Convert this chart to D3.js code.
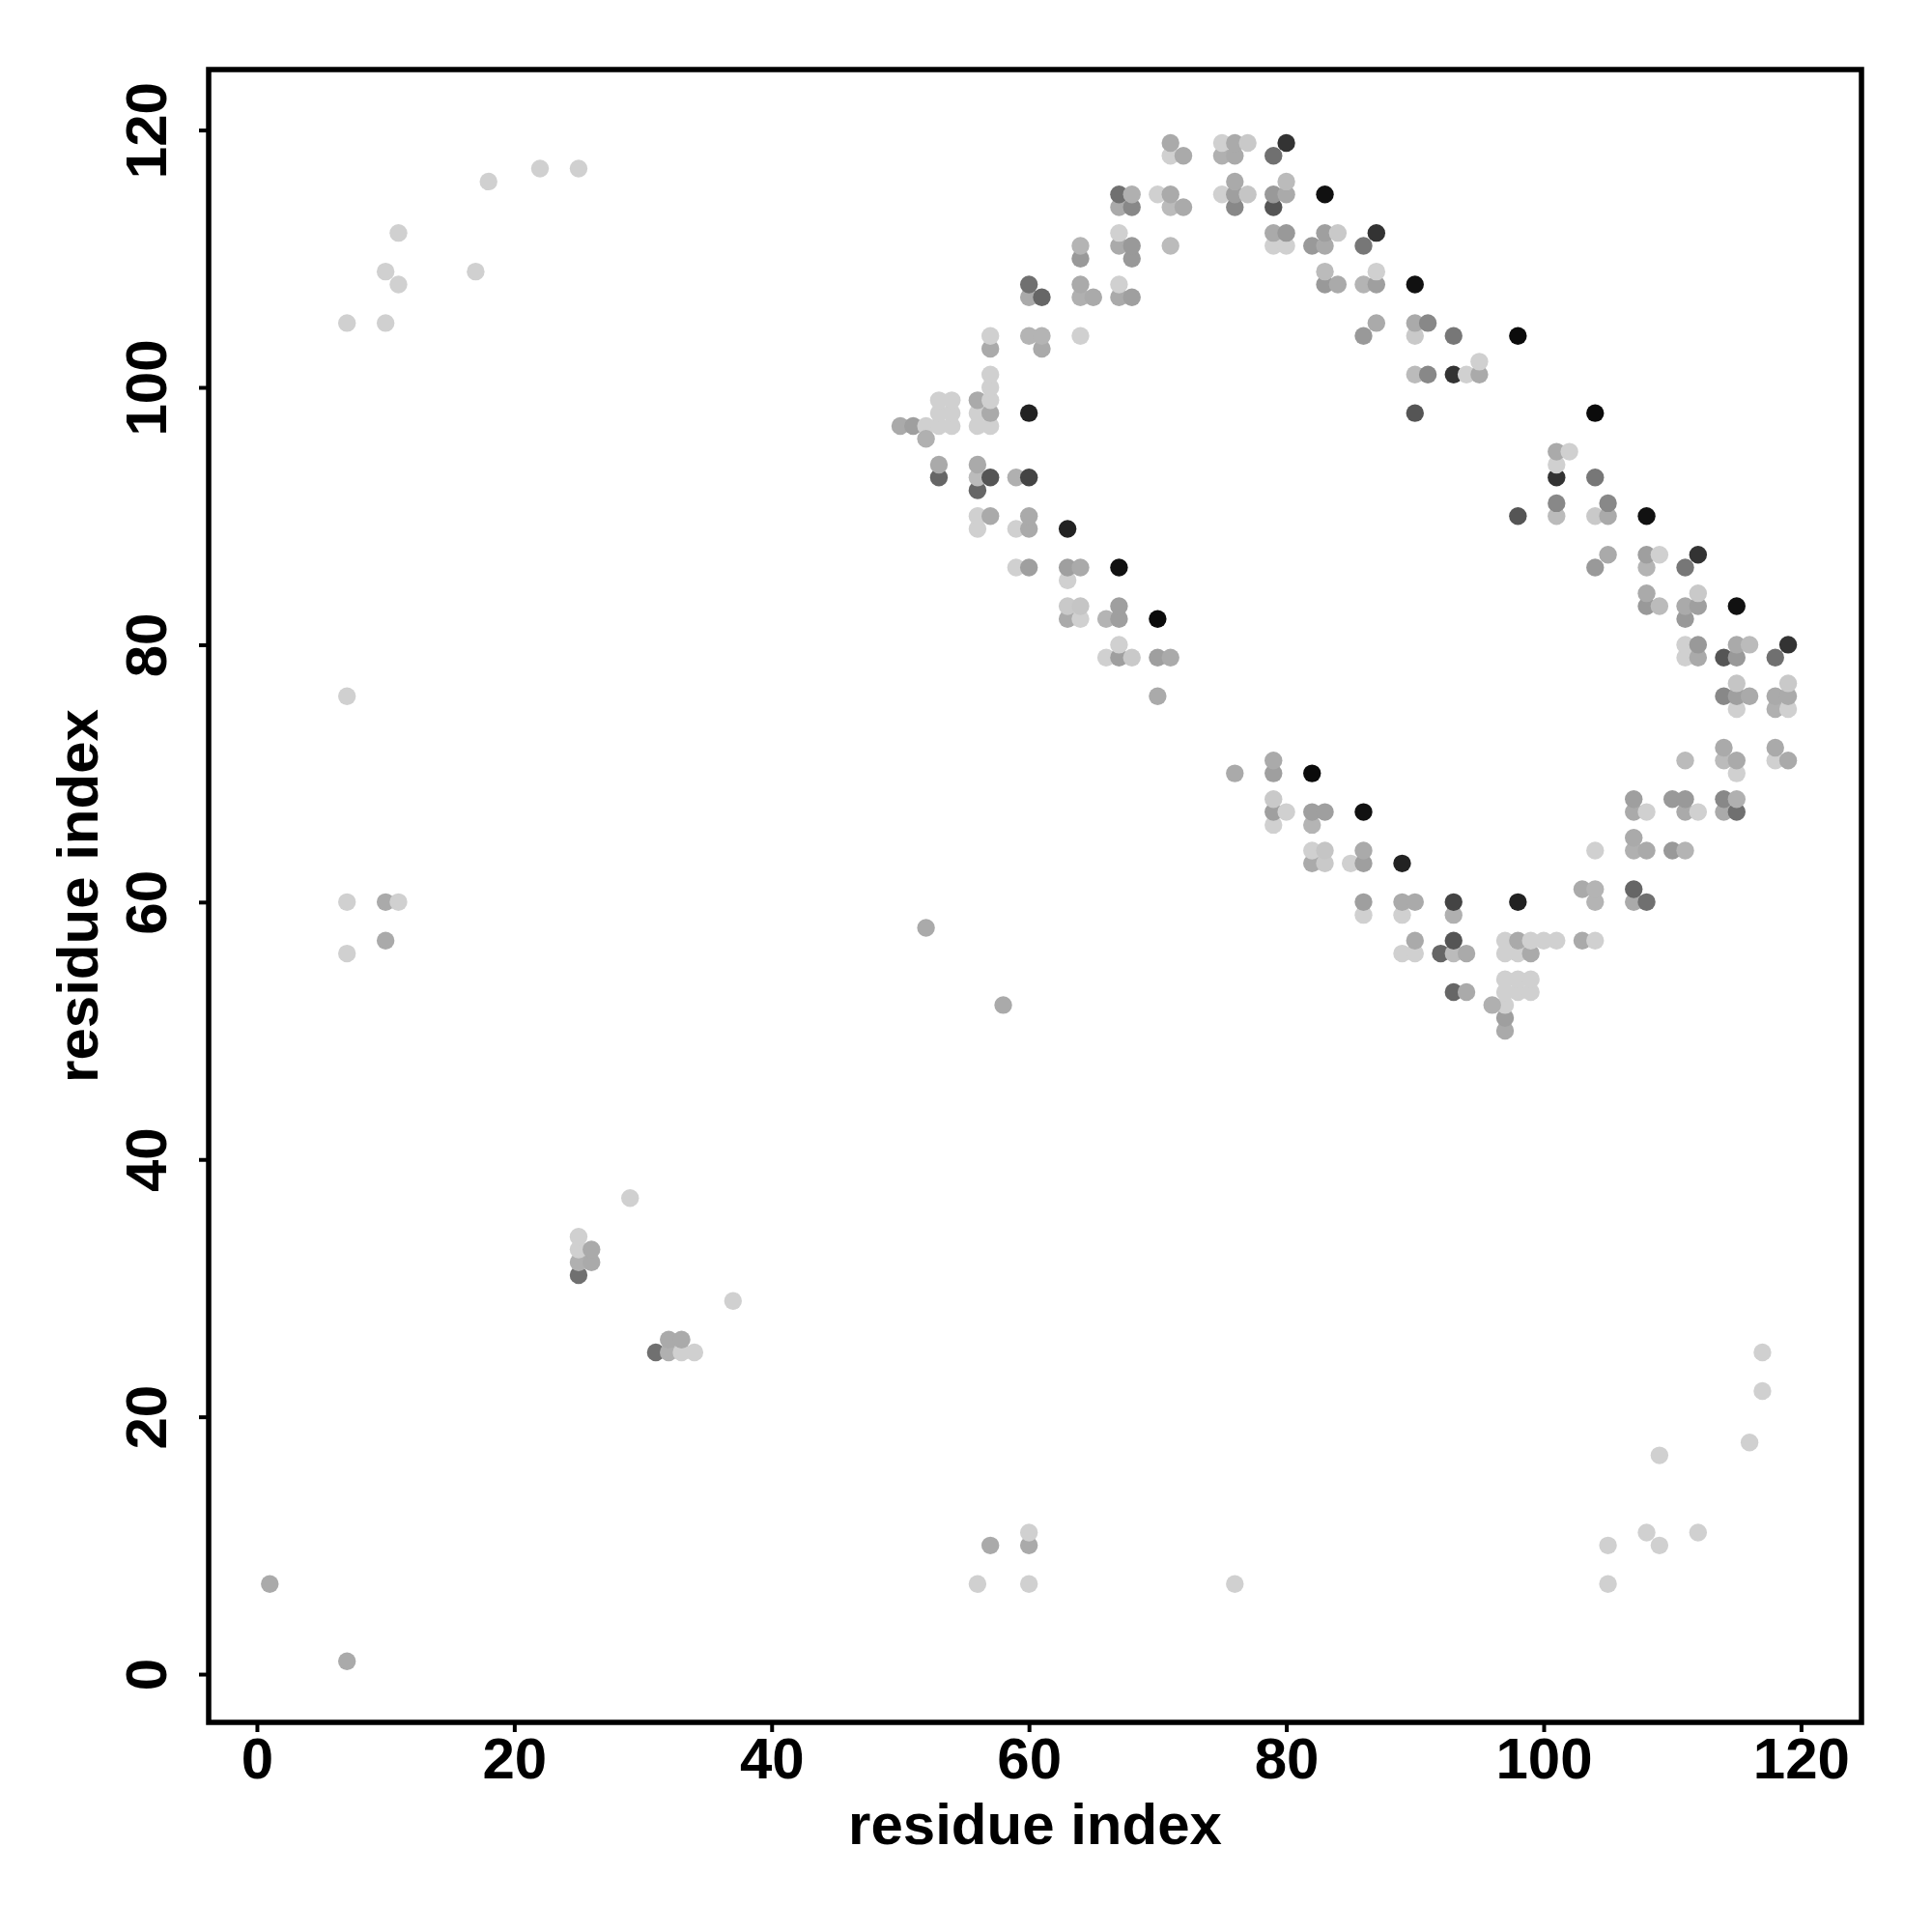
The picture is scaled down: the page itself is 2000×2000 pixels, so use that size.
<!DOCTYPE html>
<html>
<head>
<meta charset="utf-8">
<script src="https://cdn.jsdelivr.net/npm/d3@7"></script>
<style>body{margin:0;background:#fff}</style>
</head>
<body>
<svg id="chart" width="2000" height="2000"></svg>
<script>
// Contact list (upper triangle, i < j); each contact is drawn at (i,j) and (j,i)
const contactI = [
  1,7,10,10,11,11,17,18,22,25,7,7,7,10,10,11,52,29,25,25,25,25,26,26,
  50,51,52,52,53,53,53,54,54,54,56,56,56,57,57,57,57,57,57,57,60,60,61,61,64,
  60,60,61,64,64,65,67,67,68,64,64,67,67,68,68,71,67,67,68,68,70,71,71,72,
  71,71,72,75,75,75,76,76,76,76,76,77,77,79,79,79,80,80,80,
  79,79,80,80,82,83,83,84,83,86,87,83,83,84,86,87,87,90,
  86,87,90,90,91,93,98,90,91,93,94,95,95,90,
  53,53,56,56,56,57,59,60,56,56,57,59,60,60,63,59,60,63,63,64,67,
  63,63,64,64,66,67,67,70,66,67,67,68,70,71,70
];
const contactJ = [
  7,105,105,109,108,112,109,116,117,117,76,56,60,57,60,60,58,37,31,32,33,34,32,33,
  97,97,97,96,97,98,99,97,98,99,97,98,99,97,98,99,100,101,103,104,98,104,103,104,104,
  107,108,107,107,108,107,107,108,107,110,111,111,112,110,111,111,114,115,114,115,115,114,115,114,
  118,119,118,115,118,119,114,115,116,118,119,115,119,114,115,118,115,116,119,
  111,112,111,112,111,111,112,112,115,111,112,108,109,108,108,108,109,108,
  104,105,104,105,105,104,104,101,101,101,101,101,102,98,
  93,94,92,93,94,93,93,93,89,90,90,89,89,90,89,86,86,85,86,86,86,
  82,83,82,83,82,82,83,82,79,79,80,79,79,79,76
];
const contactScore = [
  .20,.02,.02,.02,.02,.02,.02,.02,.02,.02,.02,.02,.02,.20,.20,.02,.20,.02,.47,.17,.02,.02,.20,.20,
  .20,.25,.02,.17,.02,.02,.02,.02,.02,.02,.02,.02,.20,.02,.20,.02,.02,.02,.20,.02,.84,.15,.20,.15,.02,
  .20,.47,.52,.17,.20,.20,.20,.02,.25,.28,.15,.20,.02,.28,.28,.12,.20,.47,.36,.17,.02,.12,.20,.20,
  .02,.20,.20,.02,.17,.02,.36,.25,.20,.20,.20,.07,.05,.60,.28,.47,.20,.12,.76,
  .02,.20,.02,.28,.28,.20,.25,.05,.92,.44,.76,.28,.12,.20,.15,.25,.02,.92,
  .28,.20,.05,.20,.36,.44,.95,.12,.36,.76,.02,.20,.02,.60,
  .52,.20,.52,.12,.20,.60,.17,.68,.02,.02,.20,.02,.20,.20,.84,.02,.25,.02,.25,.20,.92,
  .20,.05,.02,.07,.15,.25,.25,.95,.02,.25,.02,.05,.25,.20,.20
];
const xTicks = [0, 20, 40, 60, 80, 100, 120];
const yTicks = [0, 20, 40, 60, 80, 100, 120];
const xTitle = "residue index";
const yTitle = "residue index";

const FONT = "'Liberation Sans', Arial, Helvetica, sans-serif";
const svg = d3.select("#chart");
const L = 216, R = 1927, T = 72, B = 1783;
const x = d3.scaleLinear().domain([-3.75, 124.7]).range([L, R]);
const y = d3.scaleLinear().domain([-3.75, 124.7]).range([B, T]);
const gray = d3.scaleLinear().domain([0, 1]).range(["#d4d4d4", "#000000"]);

const contacts = contactI.map((i, k) => ({ i: i, j: contactJ[k], s: contactScore[k] }));
const points = contacts.flatMap(c => [{ px: c.i, py: c.j, s: c.s }, { px: c.j, py: c.i, s: c.s }]);

svg.append("rect").attr("x", 0).attr("y", 0).attr("width", 2000).attr("height", 2000).attr("fill", "#fff");

svg.append("g").selectAll("circle").data(points).join("circle")
  .attr("cx", d => x(d.px))
  .attr("cy", d => y(d.py))
  .attr("r", 9.2)
  .attr("fill", d => gray(d.s));

// axes
const xAxis = svg.append("g").attr("transform", `translate(0,${B})`)
  .call(d3.axisBottom(x).tickValues(xTicks).tickSize(10).tickPadding(5).tickSizeOuter(0));
xAxis.select(".domain").remove();
xAxis.selectAll(".tick line").attr("stroke", "#000").attr("stroke-width", 4);
xAxis.selectAll(".tick text").attr("font-size", 60).attr("font-weight", "bold")
  .attr("font-family", FONT).attr("fill", "#000");

const yAxis = svg.append("g").attr("transform", `translate(${L},0)`)
  .call(d3.axisLeft(y).tickValues(yTicks).tickSize(10).tickSizeOuter(0));
yAxis.select(".domain").remove();
yAxis.selectAll(".tick line").attr("stroke", "#000").attr("stroke-width", 4);
yAxis.selectAll(".tick text")
  .attr("x", 0).attr("dy", 0)
  .attr("transform", "translate(-44,0) rotate(-90)")
  .attr("text-anchor", "middle")
  .attr("font-size", 60).attr("font-weight", "bold")
  .attr("font-family", FONT).attr("fill", "#000");

// frame
svg.append("rect").attr("x", L).attr("y", T).attr("width", R - L).attr("height", B - T)
  .attr("fill", "none").attr("stroke", "#000").attr("stroke-width", 5.5);

// titles
svg.append("text").attr("x", (L + R) / 2).attr("y", 1909)
  .attr("text-anchor", "middle").attr("font-size", 60).attr("font-weight", "bold")
  .attr("font-family", FONT).attr("fill", "#000").text(xTitle);
svg.append("text").attr("transform", `translate(101,${(T + B) / 2}) rotate(-90)`)
  .attr("text-anchor", "middle").attr("font-size", 60).attr("font-weight", "bold")
  .attr("font-family", FONT).attr("fill", "#000").text(yTitle);
</script>
</body>
</html>
